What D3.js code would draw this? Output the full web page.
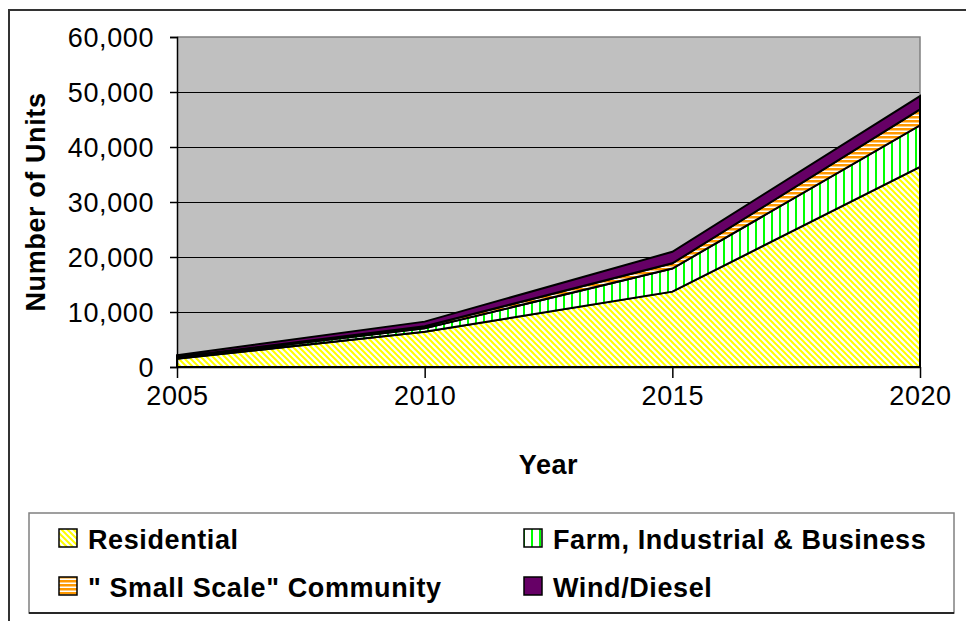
<!DOCTYPE html>
<html><head><meta charset="utf-8">
<script src="https://cdn.jsdelivr.net/npm/d3@7"></script>
<style>html,body{margin:0;padding:0;background:#fff;} svg{display:block;}</style>
</head><body>
<svg id="c" width="966" height="621"></svg>
<script>
const years = ["2005", "2010", "2015", "2020"];
const seriesNames = ["Residential", "Farm, Industrial & Business", "\" Small Scale\" Community", "Wind/Diesel"];
const residential = [1500, 6400, 13700, 36400];
const farm = [200, 650, 4200, 7550];
const smallScale = [100, 350, 950, 2900];
const windDiesel = [350, 850, 2100, 2400];
const yTicks = [0, 10000, 20000, 30000, 40000, 50000, 60000];

const keys = ["res", "farm", "small", "wind"];
const table = years.map((y, i) => ({year: y, res: residential[i], farm: farm[i], small: smallScale[i], wind: windDiesel[i]}));

const svg = d3.select("#c");
const FONT = "'Liberation Sans', Arial, sans-serif";
const L = 177, R = 920, T = 37, B = 367;

const defs = svg.append("defs");
const p1 = defs.append("pattern").attr("id", "pRes").attr("patternUnits", "userSpaceOnUse")
  .attr("width", 6).attr("height", 6);
p1.append("rect").attr("width", 6).attr("height", 6).attr("fill", "#fff");
p1.append("path").attr("d", "M-1,-1 L7,7 M-4,2 L2,8 M4,-2 L10,4").attr("stroke", "#FFFF00").attr("stroke-width", 2);
const p2 = defs.append("pattern").attr("id", "pFarm").attr("patternUnits", "userSpaceOnUse")
  .attr("width", 8).attr("height", 8);
p2.append("rect").attr("width", 8).attr("height", 8).attr("fill", "#fff");
p2.append("rect").attr("x", 3).attr("width", 2).attr("height", 8).attr("fill", "#00FF00");
const p3 = defs.append("pattern").attr("id", "pSmall").attr("patternUnits", "userSpaceOnUse")
  .attr("width", 4).attr("height", 4);
p3.append("rect").attr("width", 4).attr("height", 4).attr("fill", "#fff");
p3.append("rect").attr("y", 0).attr("width", 4).attr("height", 2.5).attr("fill", "#FF9900");

const fills = {res: "url(#pRes)", farm: "url(#pFarm)", small: "url(#pSmall)", wind: "#660066"};

svg.append("path").attr("d", `M9,630 L9,10 L980,10`).attr("fill", "none").attr("stroke", "#333").attr("stroke-width", 2);

const x = d3.scalePoint().domain(years).range([L, R]);
const y = d3.scaleLinear().domain([0, 60000]).range([B, T]);

svg.append("rect").attr("x", L).attr("y", T).attr("width", R - L).attr("height", B - T).attr("fill", "#C0C0C0");

svg.append("g").selectAll("line").data(yTicks.filter(t => t > 0 && t < 60000)).join("line")
  .attr("x1", L).attr("x2", R).attr("y1", d => y(d)).attr("y2", d => y(d))
  .attr("stroke", "#000").attr("stroke-width", 1).attr("shape-rendering", "crispEdges");

svg.append("path").attr("d", `M${L},${T} L${R},${T} L${R},${B}`).attr("fill", "none")
  .attr("stroke", "#808080").attr("stroke-width", 1.5);

const stacked = d3.stack().keys(keys)(table);
const area = d3.area().x(d => x(d.data.year)).y0(d => y(d[0])).y1(d => y(d[1]));
svg.append("g").selectAll("path").data(stacked).join("path")
  .attr("d", area).attr("fill", d => fills[d.key])
  .attr("stroke", "#000").attr("stroke-width", 2).attr("stroke-linejoin", "miter");

const yAxis = d3.axisLeft(y).tickValues(yTicks).tickSize(7).tickPadding(16)
  .tickFormat(d3.format(","));
const gy = svg.append("g").attr("transform", `translate(${L},0)`).call(yAxis);
gy.select(".domain").attr("stroke", "#000").attr("stroke-width", 1.5);
gy.selectAll(".tick line").attr("stroke", "#000").attr("stroke-width", 1.5);
gy.selectAll(".tick text").attr("font-family", FONT).attr("font-size", 27).attr("fill", "#000")
  .attr("letter-spacing", 0.6).attr("dy", "0.34em");

const xAxis = d3.axisBottom(x).tickSize(11).tickPadding(8).tickSizeOuter(0);
const gx = svg.append("g").attr("transform", `translate(0,${B})`).call(xAxis);
gx.select(".domain").attr("stroke", "#000").attr("stroke-width", 1.5);
gx.selectAll(".tick line").attr("stroke", "#000").attr("stroke-width", 1.5);
gx.selectAll(".tick text").attr("font-family", FONT).attr("font-size", 27).attr("fill", "#000")
  .attr("letter-spacing", 0.6);

svg.append("text").attr("x", (L + R) / 2).attr("y", 474).attr("text-anchor", "middle")
  .attr("font-family", FONT).attr("font-weight", "bold").attr("font-size", 27).attr("letter-spacing", 0.6).text("Year");
svg.append("text").attr("transform", "translate(45,202) rotate(-90)").attr("text-anchor", "middle")
  .attr("font-family", FONT).attr("font-weight", "bold").attr("font-size", 27).attr("letter-spacing", 0.6).text("Number of Units");

const lg = svg.append("g");
lg.append("rect").attr("x", 29).attr("y", 513).attr("width", 925).attr("height", 100)
  .attr("fill", "#fff").attr("stroke", "#808080").attr("stroke-width", 1.5);
lg.append("line").attr("x1", 29).attr("x2", 954).attr("y1", 613).attr("y2", 613).attr("stroke", "#000").attr("stroke-width", 1.5);
const legendPos = [
  {k: "res", sx: 59, sy: 529}, {k: "farm", sx: 524, sy: 529},
  {k: "small", sx: 59, sy: 577}, {k: "wind", sx: 524, sy: 577}
];
legendPos.forEach(p => {
  lg.append("rect").attr("x", p.sx).attr("y", p.sy).attr("width", 18).attr("height", 18)
    .attr("fill", fills[p.k]).attr("stroke", "#000").attr("stroke-width", 1.5);
  lg.append("text").attr("x", p.sx + 29).attr("y", p.sy + 20)
    .attr("font-family", FONT).attr("font-weight", "bold").attr("font-size", 27).attr("letter-spacing", 0.6)
    .text(seriesNames[keys.indexOf(p.k)]);
});
</script>
</body></html>
